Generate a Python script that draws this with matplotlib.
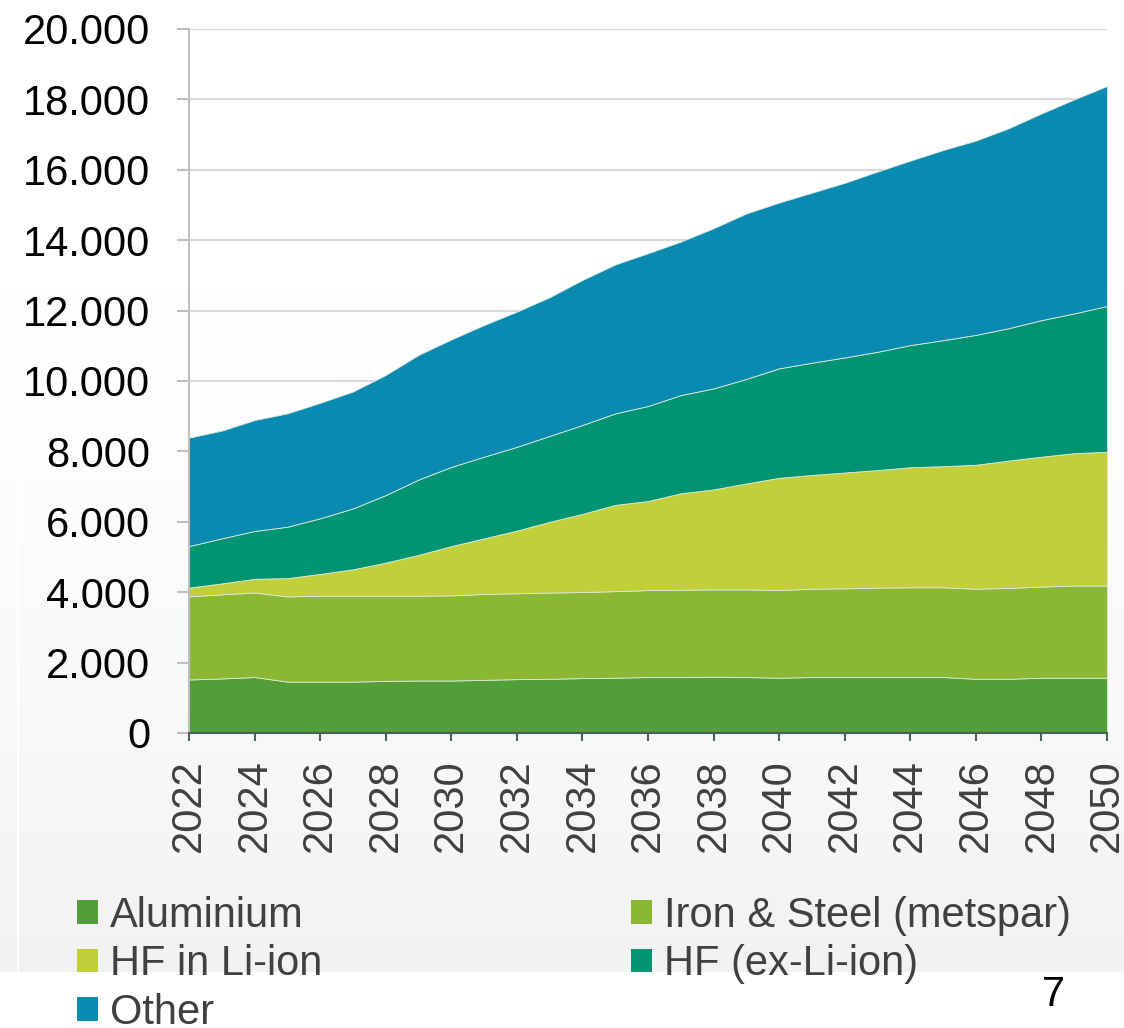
#!/usr/bin/env python3
"""Stacked area chart: fluorspar demand by end use, 2022-2050."""

import matplotlib

matplotlib.use("Agg")
import matplotlib.pyplot as plt
import numpy as np
from matplotlib.patches import Patch
from matplotlib.ticker import FuncFormatter, MultipleLocator

years = list(range(2022, 2051))

aluminium = [1520, 1550, 1590, 1460, 1460, 1460, 1480, 1490, 1490, 1510,
             1530, 1540, 1560, 1570, 1590, 1590, 1600, 1590, 1570, 1590,
             1590, 1590, 1590, 1590, 1540, 1540, 1570, 1570, 1570]
iron_steel = [2360, 2390, 2400, 2420, 2440, 2440, 2420, 2410, 2420, 2440,
              2440, 2450, 2445, 2460, 2470, 2480, 2480, 2490, 2490, 2510,
              2520, 2540, 2550, 2550, 2560, 2580, 2590, 2620, 2620]
hf_li_ion = [250, 310, 390, 520, 620, 750, 940, 1160, 1400, 1580,
             1780, 2010, 2220, 2450, 2530, 2740, 2840, 3010, 3190, 3230,
             3290, 3340, 3410, 3440, 3520, 3620, 3690, 3760, 3800]
hf_ex_li_ion = [1180, 1280, 1360, 1460, 1580, 1730, 1920, 2140, 2250, 2320,
                2380, 2440, 2525, 2600, 2700, 2790, 2870, 2970, 3110, 3190,
                3270, 3360, 3470, 3580, 3690, 3760, 3880, 3970, 4140]
other = [3080, 3060, 3150, 3220, 3280, 3320, 3410, 3540, 3620, 3740,
         3840, 3940, 4120, 4230, 4340, 4360, 4550, 4700, 4710, 4830,
         4960, 5120, 5240, 5400, 5520, 5680, 5870, 6080, 6250]

labels = ["Aluminium", "Iron & Steel (metspar)", "HF in Li-ion",
          "HF (ex-Li-ion)", "Other"]
colors = ["#529E38", "#8AB834", "#C1CF3B", "#009473", "#0A89B1"]

plt.rcParams["font.family"] = ["Liberation Sans", "DejaVu Sans"]
FS = 30

W, H = 1124, 1028
fig = plt.figure(figsize=(W / 100, H / 100), dpi=100)
fig.patch.set_facecolor("white")

# slide background: faint vertical gradient panel
bg = fig.add_axes([0, 0, 1, 1], zorder=-10)
bg.set_xlim(0, W)
bg.set_ylim(H, 0)
bg.axis("off")
t = np.linspace(0, 1, 256)[:, None]
shade = 1.0 - 0.055 * t ** 2.2
grad = np.repeat(shade, 2, axis=1)
bg.imshow(grad, cmap="gray", vmin=0, vmax=1, aspect="auto",
          extent=(19, W, 972, 0), interpolation="bilinear")
bg.imshow(grad, cmap="gray", vmin=0, vmax=1, aspect="auto",
          extent=(0, 17, 972, 0), interpolation="bilinear")

ax = fig.add_axes([189 / W, 1 - 733 / H, (1107 - 189) / W, (733 - 29) / H])
ax.set_facecolor("none")

series = [aluminium, iron_steel, hf_li_ion, hf_ex_li_ion, other]
ax.stackplot(years, *series, colors=colors, edgecolor="#dfe8d8",
             linewidth=0.6, zorder=2)

ax.set_xlim(2022, 2050)
ax.set_ylim(0, 20000)
ax.yaxis.set_major_locator(MultipleLocator(2000))
ax.xaxis.set_major_locator(MultipleLocator(2))
ax.yaxis.set_major_formatter(
    FuncFormatter(lambda v, _: f"{v:,.0f}".replace(",", ".")))

ax.grid(axis="y", color="#d9d9d9", linewidth=1.5, zorder=0)
ax.set_axisbelow(True)

for side in ("top", "right"):
    ax.spines[side].set_visible(False)
ax.spines["left"].set_color("#bfbfbf")
ax.spines["left"].set_linewidth(1.5)
ax.spines["bottom"].set_color("#4d6358")
ax.spines["bottom"].set_linewidth(1.5)
ax.spines["bottom"].set_zorder(3)

ax.tick_params(axis="y", length=9, width=1.5, color="#bfbfbf",
               pad=19, labelsize=FS, labelcolor="black")
ax.tick_params(axis="x", length=6, width=1.5, color="#4d6358",
               pad=13, labelsize=FS, labelcolor="#404040",
               labelrotation=90)

# legend laid out row by row in two columns
handles = [Patch(facecolor=c, edgecolor="none") for c in colors]
order = [0, 2, 4, 1, 3]
fig.legend([handles[i] for i in order], [labels[i] for i in order],
           loc="upper left", bbox_to_anchor=(77 / W, 1 - 896 / H),
           ncol=2, frameon=False, fontsize=FS, labelcolor="#404040",
           handlelength=0.5, handleheight=0.5, handletextpad=0.3,
           columnspacing=7.4, labelspacing=0.2, borderpad=0,
           borderaxespad=0)

fig.text(1053 / W, 1 - 995 / H, "7", fontsize=FS, color="black",
         ha="center", va="center")

fig.savefig("out.png", dpi=100)
plt.close(fig)
